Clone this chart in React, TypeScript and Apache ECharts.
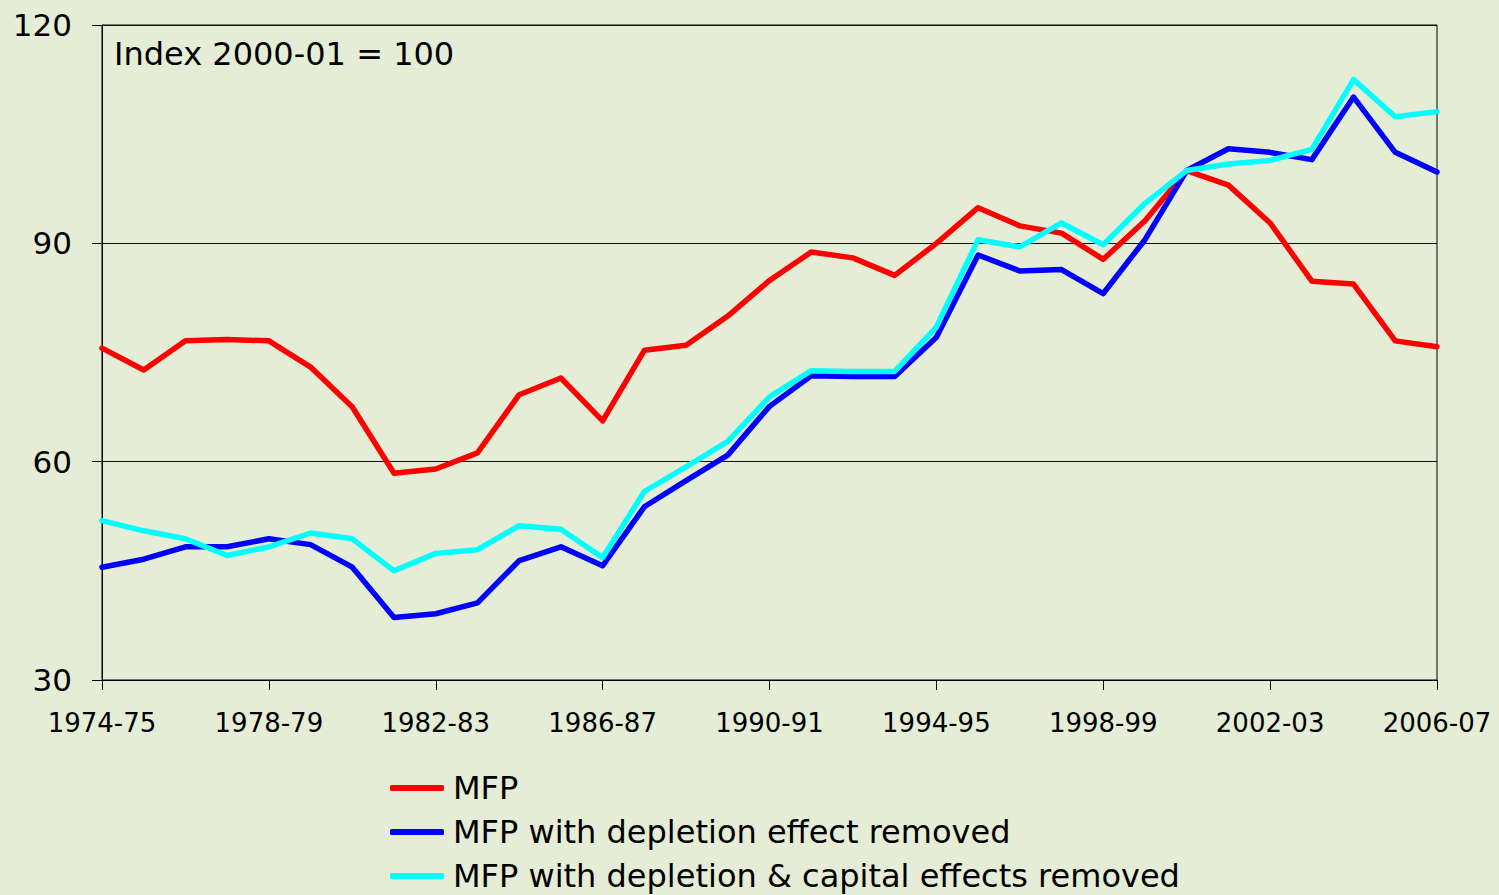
import React, { useEffect, useRef } from "react";
import * as echarts from "echarts";

const categories = [
  "1974-75", "1975-76", "1976-77", "1977-78", "1978-79", "1979-80", "1980-81", "1981-82",
  "1982-83", "1983-84", "1984-85", "1985-86", "1986-87", "1987-88", "1988-89", "1989-90",
  "1990-91", "1991-92", "1992-93", "1993-94", "1994-95", "1995-96", "1996-97", "1997-98",
  "1998-99", "1999-00", "2000-01", "2001-02", "2002-03", "2003-04", "2004-05", "2005-06",
  "2006-07",
];

const mfp = [
  75.6, 72.6, 76.6, 76.8, 76.6, 73.0, 67.5, 58.4, 59.0, 61.2, 69.2, 71.5, 65.6, 75.3, 76.0, 80.0,
  84.9, 88.8, 88.0, 85.6, 90.0, 94.9, 92.4, 91.4, 87.8, 93.1, 100, 98.0, 92.8, 84.8, 84.4, 76.6,
  75.8,
];

const mfpDepletion = [
  45.5, 46.6, 48.3, 48.3, 49.4, 48.6, 45.5, 38.6, 39.1, 40.6, 46.4, 48.3, 45.7, 53.8, 57.4, 60.9,
  67.6, 71.8, 71.7, 71.7, 77.1, 88.4, 86.2, 86.4, 83.1, 90.5, 100, 103.0, 102.5, 101.5, 110.1,
  102.5, 99.8,
];

const mfpDepletionCapital = [
  51.9, 50.5, 49.4, 47.1, 48.3, 50.2, 49.4, 45.0, 47.4, 47.9, 51.2, 50.7, 46.8, 55.9, 59.3, 62.8,
  68.9, 72.5, 72.4, 72.4, 78.5, 90.5, 89.5, 92.8, 89.8, 95.5, 100, 100.9, 101.4, 102.9, 112.5,
  107.4, 108.1,
];

const seriesNames = [
  "MFP",
  "MFP with depletion effect removed",
  "MFP with depletion & capital effects removed",
];
const seriesColors = ["#FF0000", "#0000FF", "#00FFFF"];

const FONT = '"DejaVu Sans", "Liberation Sans", Arial, sans-serif';

export default function App() {
  const ref = useRef<HTMLDivElement>(null);

  useEffect(() => {
    if (!ref.current) return;
    const chart = echarts.init(ref.current, undefined, { renderer: "svg" });
    const data = [mfp, mfpDepletion, mfpDepletionCapital];
    chart.setOption({
      animation: false,
      backgroundColor: "#E6EDD7",
      grid: {
        left: 102,
        right: 62,
        top: 25,
        bottom: 215,
        show: true,
        borderColor: "#000",
        borderWidth: 1,
        backgroundColor: "transparent",
      },
      graphic: [
        {
          type: "text",
          left: 114,
          top: 38,
          style: {
            text: "Index 2000-01 = 100",
            font: `32px ${FONT}`,
            fill: "#000",
          },
        },
      ],
      legend: {
        orient: "vertical",
        left: 390,
        top: 766,
        height: 160,
        padding: 0,
        icon: "roundRect",
        itemWidth: 54,
        itemHeight: 6,
        itemGap: 0,
        textStyle: {
          fontFamily: FONT,
          fontSize: 32,
          lineHeight: 44,
          color: "#000",
          padding: [0, 0, 0, 4],
        },
        data: seriesNames,
      },
      xAxis: {
        type: "category",
        data: categories,
        boundaryGap: false,
        axisLine: { show: true, lineStyle: { color: "#000", width: 1 } },
        axisTick: { show: true, interval: 3, length: 10, lineStyle: { color: "#000" } },
        axisLabel: {
          interval: 3,
          margin: 30,
          fontFamily: FONT,
          fontSize: 26,
          color: "#000",
        },
        splitLine: { show: false },
      },
      yAxis: {
        type: "value",
        min: 30,
        max: 120,
        interval: 30,
        axisLine: { show: true, lineStyle: { color: "#000", width: 1 } },
        axisTick: { show: true, length: 10, lineStyle: { color: "#000" } },
        axisLabel: {
          margin: 30,
          fontFamily: FONT,
          fontSize: 31,
          color: "#000",
        },
        splitLine: { show: true, lineStyle: { color: "#111", width: 1 } },
      },
      series: data.map((d, i) => ({
        name: seriesNames[i],
        type: "line",
        data: d,
        symbol: "none",
        showSymbol: false,
        color: seriesColors[i],
        lineStyle: { color: seriesColors[i], width: 5.5, cap: "round", join: "round" },
        z: 2 + i,
      })),
    });
    return () => chart.dispose();
  }, []);

  return (
    <div
      ref={ref}
      style={{ position: "fixed", left: 0, top: 0, width: 1499, height: 895 }}
    />
  );
}
